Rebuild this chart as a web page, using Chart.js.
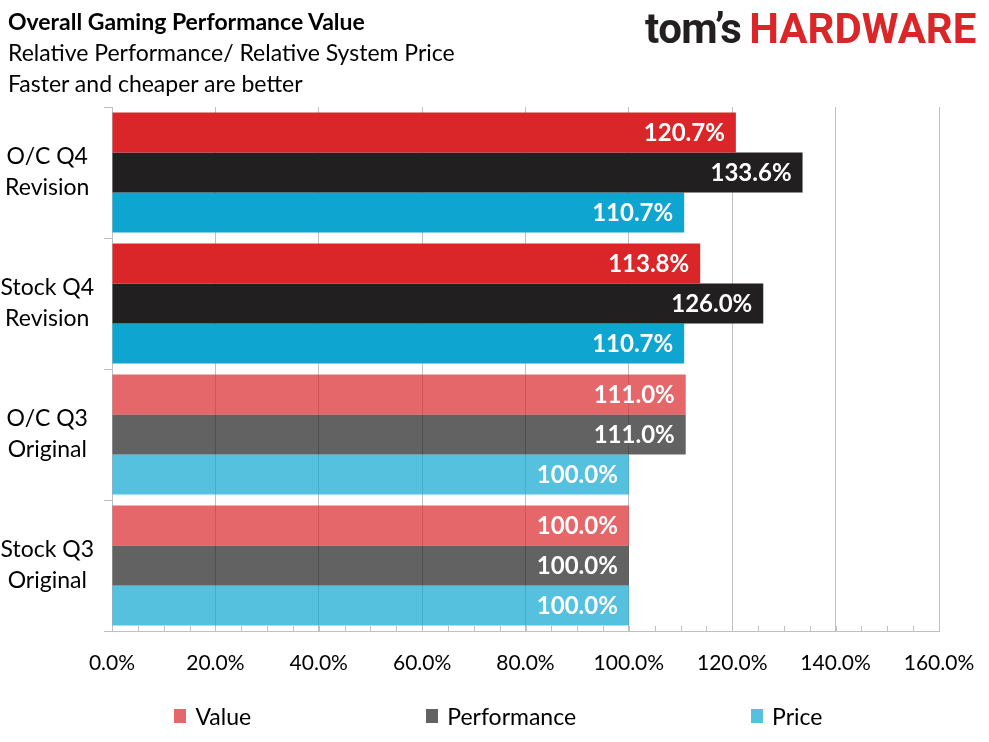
<!DOCTYPE html>
<html>
<head>
<meta charset="utf-8">
<title>Overall Gaming Performance Value</title>
<script src="https://cdn.jsdelivr.net/npm/chart.js@4.4.1/dist/chart.umd.min.js"></script>
<style>
  html, body { margin: 0; padding: 0; background: #fff; }
  #wrap { position: relative; width: 989px; height: 742px; font-family: Lato, sans-serif; color: #000; }
  #chart { position: absolute; left: 0; top: 0; }
  #head { position: absolute; left: 8px; top: 6px; font-size: 23px; line-height: 31px; white-space: nowrap; }
  #head .t { font-weight: 700; }
  #logo { position: absolute; left: 645px; top: 4px; font-family: Roboto, sans-serif; font-weight: 700; font-size: 42px; white-space: nowrap; letter-spacing: -0.5px; }
  #logo .toms { color: #231f20; }
  #logo .hw { color: #da2629; margin-left: 8px; letter-spacing: 0; }
  #legend { position: absolute; left: 0; top: 702px; width: 989px; padding-left: 8px; box-sizing: border-box;
            display: flex; justify-content: center; gap: 175px; font-size: 23px; line-height: 28px; }
  #legend .item { display: flex; align-items: center; }
  #legend .box { width: 12px; height: 14px; margin-right: 9px; }
</style>
</head>
<body>
<div id="wrap">
  <canvas id="chart" width="989" height="742"></canvas>
  <div id="head">
    <div class="t">Overall Gaming Performance Value</div>
    <div>Relative Performance/ Relative System Price</div>
    <div>Faster and cheaper are better</div>
  </div>
  <div id="logo"><span class="toms">tom’s</span><span class="hw">HARDWARE</span></div>
  <div id="legend"></div>
</div>
<script>
// Данные графика
const categories = [['O/C Q4', 'Revision'], ['Stock Q4', 'Revision'], ['O/C Q3', 'Original'], ['Stock Q3', 'Original']];
const seriesNames = ['Value', 'Performance', 'Price'];
const valueData = [120.7, 113.8, 111.0, 100.0];
const performanceData = [133.6, 126.0, 111.0, 100.0];
const priceData = [110.7, 110.7, 100.0, 100.0];
const xTicksMax = 160;
const xTicksStep = 20;

// Цвета: ревизии Q4 насыщенные, оригиналы Q3 полупрозрачные
const solidColors = ['#da2629', '#211f1f', '#0ea5d1'];
const lightColors = ['rgba(218,38,41,0.7)', 'rgba(33,31,31,0.7)', 'rgba(14,165,209,0.7)'];
const gridColor = '#c0c0c0';

function barColors(i) {
    return [solidColors[i], solidColors[i], lightColors[i], lightColors[i]];
}

// Подписи значений внутри столбцов
const valueLabels = {
    id: 'valueLabels',
    afterDatasetsDraw(chart) {
        const ctx = chart.ctx;
        ctx.save();
        ctx.font = 'bold 24px Lato, sans-serif';
        ctx.fillStyle = '#fff';
        ctx.textAlign = 'right';
        ctx.textBaseline = 'middle';
        chart.data.datasets.forEach((ds, i) => {
            chart.getDatasetMeta(i).data.forEach((bar, j) => {
                ctx.fillText(ds.data[j].toFixed(1) + '%', bar.x - 11, bar.y + 1);
            });
        });
        ctx.restore();
    }
};

// Малые засечки оси X внутрь области графика (каждые 5%)
const minorTicks = {
    id: 'minorTicks',
    afterDatasetsDraw(chart) {
        const ctx = chart.ctx;
        const x = chart.scales.x;
        const bottom = chart.chartArea.bottom;
        ctx.save();
        ctx.strokeStyle = gridColor;
        ctx.lineWidth = 1;
        for (let v = 5; v < xTicksMax; v += 5) {
            const px = Math.round(x.getPixelForValue(v)) + 0.5;
            ctx.beginPath();
            ctx.moveTo(px, bottom - 5);
            ctx.lineTo(px, bottom);
            ctx.stroke();
        }
        ctx.restore();
    }
};

const chart = new Chart(document.getElementById('chart'), {
    type: 'bar',
    data: {
        labels: categories,
        datasets: [
            { label: seriesNames[0], data: valueData, backgroundColor: barColors(0) },
            { label: seriesNames[1], data: performanceData, backgroundColor: barColors(1) },
            { label: seriesNames[2], data: priceData, backgroundColor: barColors(2) }
        ]
    },
    options: {
        indexAxis: 'y',
        responsive: false,
        animation: false,
        devicePixelRatio: 1,
        categoryPercentage: 0.916,
        barPercentage: 1.0,
        layout: { padding: { top: 107, left: 0, right: 50, bottom: 51 } },
        plugins: {
            legend: { display: false },
            title: { display: false },
            tooltip: { enabled: false }
        },
        scales: {
            x: {
                min: 0,
                max: xTicksMax,
                grid: { color: gridColor, drawTicks: false },
                border: { color: gridColor },
                ticks: {
                    stepSize: xTicksStep,
                    padding: 20,
                    color: '#000',
                    font: { family: 'Lato, sans-serif', size: 21 },
                    callback: v => v.toFixed(1) + '%'
                },
                afterFit: s => { s.height = 60; s.paddingLeft = 0; s.paddingRight = 0; }
            },
            y: {
                grid: { color: gridColor, drawOnChartArea: false, tickLength: 8, offset: true },
                border: { color: gridColor },
                ticks: {
                    padding: 10,
                    crossAlign: 'center',
                    color: '#000',
                    font: { family: 'Lato, sans-serif', size: 23, lineHeight: 1.35 }
                },
                afterFit: s => { s.width = 112; }
            }
        }
    },
    plugins: [valueLabels, minorTicks]
});

// Легенда (светлые цвета, как в оригинале)
const legendEl = document.getElementById('legend');
seriesNames.forEach((name, i) => {
    const item = document.createElement('div');
    item.className = 'item';
    item.innerHTML = '<span class="box" style="background:' + lightColors[i] + '"></span><span>' + name + '</span>';
    legendEl.appendChild(item);
});
</script>
</body>
</html>
